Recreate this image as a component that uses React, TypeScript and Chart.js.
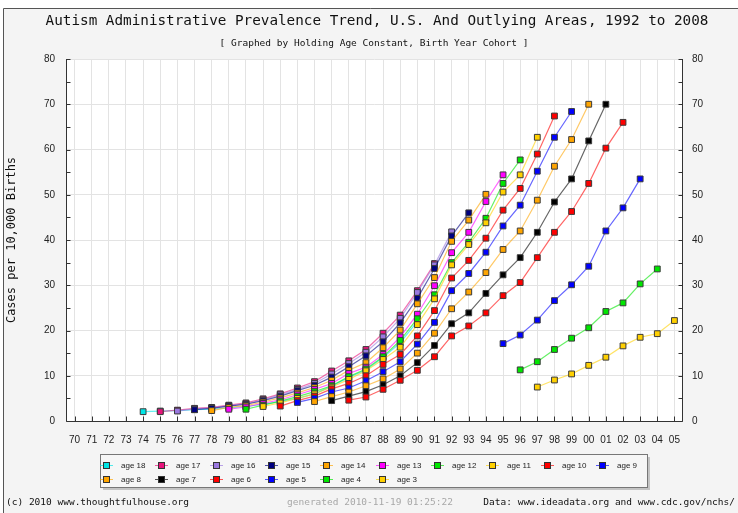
import React, { useEffect, useRef } from 'react';
import { Chart, registerables } from 'chart.js';

Chart.register(...registerables);

// Birth-year categories (x axis)
const years = [
  '70', '71', '72', '73', '74', '75', '76', '77', '78', '79',
  '80', '81', '82', '83', '84', '85', '86', '87', '88', '89',
  '90', '91', '92', '93', '94', '95', '96', '97', '98', '99',
  '00', '01', '02', '03', '04', '05',
];

const yTicks = [0, 10, 20, 30, 40, 50, 60, 70, 80];

// Series names and the birth year of each series' first point
const ageLabels = [
  'age 18', 'age 17', 'age 16', 'age 15', 'age 14', 'age 13', 'age 12', 'age 11',
  'age 10', 'age 9', 'age 8', 'age 7', 'age 6', 'age 5', 'age 4', 'age 3',
];
const firstYear = ['74', '75', '76', '77', '78', '79', '80', '81', '82', '83', '84', '85', '86', '95', '96', '97'];

// Cases per 10,000 births
const age18 = [2.06, 2.2, 2.3, 2.5, 2.6, 2.9, 3.2, 3.7, 4.3, 5.0, 6.0, 7.7, 9.6, 11.3, 14.0, 17.3, 22.0];
const age17 = [2.06, 2.4, 2.8, 3.0, 3.5, 4.0, 4.9, 6.0, 7.3, 8.7, 11.05, 13.3, 15.8, 19.4, 23.4, 28.8, 34.8];
const age16 = [2.2, 2.7, 2.9, 3.4, 3.8, 4.7, 5.8, 7.0, 8.3, 10.4, 12.7, 15.2, 18.6, 22.7, 28.4, 34.5, 41.8];
const age15 = [2.5, 2.8, 3.3, 3.7, 4.5, 5.5, 6.7, 7.9, 9.7, 12.0, 14.4, 17.5, 21.7, 27.1, 33.7, 40.9, 46.0];
const age14 = [2.3, 3.0, 3.4, 4.2, 5.1, 6.2, 7.4, 9.0, 11.2, 12.9, 16.2, 20.1, 25.9, 31.7, 39.7, 44.4, 50.1];
const age13 = [2.6, 3.1, 3.9, 4.7, 5.8, 7.0, 8.3, 10.5, 11.9, 14.7, 18.6, 23.6, 29.9, 37.2, 41.7, 48.5, 54.4];
const age12 = [2.6, 3.5, 4.4, 5.4, 6.5, 7.8, 9.8, 11.5, 14.2, 17.8, 22.6, 27.9, 35.0, 39.5, 44.8, 52.5, 57.7];
const age11 = [3.2, 4.0, 5.0, 6.0, 7.5, 9.2, 11.1, 13.6, 16.3, 21.3, 27.0, 34.5, 39.0, 43.8, 50.6, 54.4, 62.7];
const age10 = [3.3, 4.5, 5.5, 7.1, 8.3, 10.0, 12.5, 14.7, 18.8, 24.4, 31.6, 35.5, 40.4, 46.6, 51.4, 59.0, 67.4];
const age9 = [4.1, 5.0, 6.4, 7.3, 8.9, 10.9, 13.1, 17.0, 21.8, 28.8, 32.6, 37.3, 43.1, 47.7, 55.2, 62.7, 68.4];
const age8 = [4.3, 5.4, 6.4, 7.8, 9.3, 11.5, 15.0, 19.4, 24.8, 28.5, 32.8, 37.9, 42.0, 48.8, 56.3, 62.2, 70.0];
const age7 = [4.5, 5.5, 6.5, 8.0, 10.0, 12.9, 16.7, 21.5, 23.9, 28.2, 32.3, 36.1, 41.7, 48.4, 53.5, 61.9, 70.0];
const age6 = [4.6, 5.3, 7.0, 9.0, 11.2, 14.2, 18.8, 21.0, 23.9, 27.7, 30.6, 36.1, 41.7, 46.3, 52.5, 60.3, 66.0];
const age5 = [17.1, 19.0, 22.3, 26.6, 30.1, 34.2, 42.0, 47.1, 53.5];
const age4 = [11.3, 13.1, 15.8, 18.3, 20.6, 24.2, 26.1, 30.3, 33.6];
const age3 = [7.5, 9.06, 10.4, 12.3, 14.1, 16.6, 18.5, 19.3, 22.2];

const seriesValues = [age18, age17, age16, age15, age14, age13, age12, age11, age10, age9, age8, age7, age6, age5, age4, age3];

const seriesColors = [
  '#00e6e6', '#e8147c', '#9a78e0', '#000080', '#ffa500', '#ff00ff', '#00e600', '#ffd000',
  '#ff0000', '#0000ff', '#ffa500', '#000000', '#ff0000', '#0000ff', '#00e600', '#ffd000',
];

const TITLE = 'Autism Administrative Prevalence Trend, U.S. And Outlying Areas, 1992 to 2008';
const SUBTITLE = '[ Graphed by Holding Age Constant, Birth Year Cohort ]';
const Y_TITLE = 'Cases per 10,000 Births';
const FOOT_LEFT = '(c) 2010 www.thoughtfulhouse.org';
const FOOT_MID = 'generated 2010-11-19 01:25:22';
const FOOT_RIGHT = 'Data: www.ideadata.org and www.cdc.gov/nchs/';

const W = 738;
const H = 513;
const MONO = '"DejaVu Sans Mono", "Liberation Mono", monospace';
const SANS = '"Liberation Sans", Arial, sans-serif';

function hexAlpha(hex: string, a: string) {
  return hex + a;
}

const decor = {
  id: 'decor',
  beforeDraw(chart: any) {
    const { ctx, chartArea: a } = chart;
    ctx.save();
    ctx.fillStyle = '#ffffff';
    ctx.fillRect(0, 0, W, H);
    ctx.fillStyle = '#f4f4f4';
    ctx.fillRect(3, 8, W - 3, H - 8);
    ctx.strokeStyle = '#555555';
    ctx.lineWidth = 1;
    ctx.beginPath();
    ctx.moveTo(3.5, H);
    ctx.lineTo(3.5, 8.5);
    ctx.lineTo(W, 8.5);
    ctx.stroke();
    ctx.fillStyle = '#ffffff';
    ctx.fillRect(a.left, a.top, a.right - a.left, a.bottom - a.top);
    ctx.restore();
  },
  beforeDatasetsDraw(chart: any) {
    const { ctx, chartArea: a, scales } = chart;
    ctx.save();
    ctx.strokeStyle = '#333333';
    ctx.lineWidth = 1;
    ctx.beginPath();
    const L = Math.round(a.left) + 0.5;
    const R = Math.round(a.right) - 0.5;
    const B = Math.round(a.bottom) + 0.5;
    ctx.moveTo(L, a.top);
    ctx.lineTo(L, B);
    ctx.lineTo(R, B);
    ctx.lineTo(R, a.top);
    years.forEach((_, i) => {
      const x = Math.round(scales.x.getPixelForValue(i)) + 0.5;
      ctx.moveTo(x, B);
      ctx.lineTo(x, B - 5);
    });
    for (let v = 0; v <= 80; v += 5) {
      const y = Math.round(scales.y.getPixelForValue(v)) + 0.5;
      ctx.moveTo(L, y);
      ctx.lineTo(L + 4, y);
      ctx.moveTo(R, y);
      ctx.lineTo(R - 4, y);
    }
    ctx.stroke();
    ctx.restore();
  },
  afterDraw(chart: any) {
    const { ctx } = chart;
    ctx.save();
    ctx.fillStyle = '#111111';
    ctx.textAlign = 'center';
    ctx.textBaseline = 'middle';
    ctx.font = `14.3px ${MONO}`;
    ctx.fillText(TITLE, 377, 21);
    ctx.font = `9.5px ${MONO}`;
    ctx.fillText(SUBTITLE, 374, 44);
    ctx.save();
    ctx.translate(12, 240);
    ctx.rotate(-Math.PI / 2);
    ctx.font = `12px ${MONO}`;
    ctx.fillText(Y_TITLE, 0, 0);
    ctx.restore();

    const bx = 100, by = 454, bw = 547, bh = 33;
    ctx.fillStyle = '#c4c4c4';
    ctx.fillRect(bx + 3, by + 3, bw, bh);
    ctx.fillStyle = '#f6f6f6';
    ctx.fillRect(bx, by, bw, bh);
    ctx.strokeStyle = '#777777';
    ctx.lineWidth = 1;
    ctx.strokeRect(bx + 0.5, by + 0.5, bw, bh);

    ageLabels.forEach((label, i) => {
      const col = i % 10;
      const row = Math.floor(i / 10);
      const mx = Math.round(105.5 + col * 55.2);
      const my = row === 0 ? 465 : 479;
      ctx.strokeStyle = hexAlpha(seriesColors[i], 'aa');
      ctx.beginPath();
      ctx.moveTo(mx - 6, my + 0.5);
      ctx.lineTo(mx + 7, my + 0.5);
      ctx.stroke();
      ctx.fillStyle = seriesColors[i];
      ctx.fillRect(mx - 2, my - 2, 5, 5);
      ctx.strokeStyle = '#333333';
      ctx.strokeRect(mx - 2.5, my - 2.5, 6, 6);
      ctx.fillStyle = '#222222';
      ctx.textAlign = 'left';
      ctx.textBaseline = 'middle';
      ctx.font = `8px ${SANS}`;
      ctx.fillText(label, mx + 15, my + 1);
    });

    ctx.font = `9.5px ${MONO}`;
    ctx.textBaseline = 'middle';
    ctx.fillStyle = '#111111';
    ctx.textAlign = 'left';
    ctx.fillText(FOOT_LEFT, 6, 503);
    ctx.fillStyle = '#a8a8a8';
    ctx.fillText(FOOT_MID, 287, 503);
    ctx.fillStyle = '#111111';
    ctx.textAlign = 'right';
    ctx.fillText(FOOT_RIGHT, 735, 503);
    ctx.restore();
  },
};

export default function App() {
  const ref = useRef<HTMLCanvasElement | null>(null);

  useEffect(() => {
    if (!ref.current) return;
    const n = seriesValues.length;
    const datasets = seriesValues.map((vals, i) => {
      const start = years.indexOf(firstYear[i]);
      const data = years.map((_, k) => (k >= start && k < start + vals.length ? vals[k - start] : null));
      return {
        label: ageLabels[i],
        data,
        order: n - 1 - i,
        borderColor: hexAlpha(seriesColors[i], '99'),
        backgroundColor: seriesColors[i],
        borderWidth: 1.2,
        pointStyle: 'rect' as const,
        pointRadius: 4.1,
        pointBorderWidth: 1,
        pointBorderColor: '#3a3a3a',
        pointBackgroundColor: seriesColors[i],
        fill: false,
        tension: 0,
        spanGaps: false,
        yAxisID: 'y',
      };
    });

    const tickFont = { family: SANS, size: 10 };
    const chart = new Chart(ref.current, {
      type: 'line',
      data: { labels: years, datasets },
      options: {
        animation: false,
        responsive: false,
        maintainAspectRatio: false,
        layout: { padding: { top: 59, left: 0, right: 0, bottom: 62 } },
        plugins: {
          legend: { display: false },
          title: { display: false },
          tooltip: { enabled: false },
        },
        scales: {
          x: {
            type: 'category',
            offset: true,
            grid: { offset: false, color: '#e3e3e3', drawTicks: false },
            border: { display: false },
            ticks: { font: tickFont, color: '#222', padding: 13, maxRotation: 0, autoSkip: false },
            afterFit(s: any) { s.height = 30; },
          },
          y: {
            position: 'left',
            min: 0,
            max: 80,
            afterBuildTicks(s: any) { s.ticks = yTicks.map((v) => ({ value: v })); },
            grid: { color: '#e3e3e3', drawTicks: false },
            border: { display: false },
            ticks: { font: tickFont, color: '#222', padding: 11 },
            afterFit(s: any) { s.width = 66; },
          },
          y2: {
            position: 'right',
            min: 0,
            max: 80,
            afterBuildTicks(s: any) { s.ticks = yTicks.map((v) => ({ value: v })); },
            grid: { display: false, drawTicks: false },
            border: { display: false },
            ticks: { font: tickFont, color: '#222', padding: 9 },
            afterFit(s: any) { s.width = 55; },
          },
        },
      },
      plugins: [decor],
    } as any);
    return () => chart.destroy();
  }, []);

  return (
    <div style={{ position: 'fixed', left: 0, top: 0, width: W, height: H }}>
      <canvas ref={ref} width={W} height={H} style={{ display: 'block', width: W, height: H }} />
    </div>
  );
}
